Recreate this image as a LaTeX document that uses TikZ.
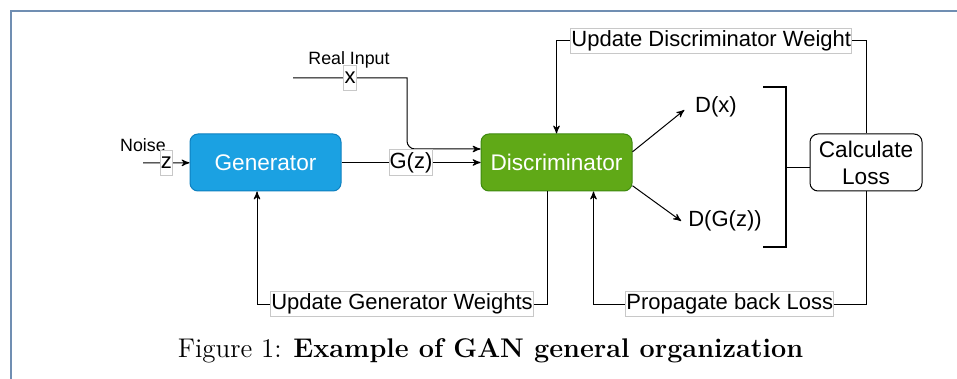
\documentclass[tikz,border=0pt]{standalone}
\usepackage{fontspec}
\newfontfamily\drawfont{Liberation Sans}
\usetikzlibrary{arrows,positioning}

\definecolor{genblue}{HTML}{1BA1E2}
\definecolor{genedge}{HTML}{0E80BF}
\definecolor{discgreen}{HTML}{60A917}
\definecolor{discedge}{HTML}{3E8A0F}
\definecolor{lblgray}{HTML}{C8C8C8}
\definecolor{framecol}{RGB}{112,142,178}

\begin{document}
\begin{tikzpicture}[>=stealth', x=0.5pt, y=-0.5pt, line width=0.5pt,
    block/.style={rectangle, rounded corners=4pt, draw, minimum width=75.5pt, minimum height=28.5pt,
                  text=white, font=\drawfont\fontsize{11.3}{13.5}\selectfont},
    lbl/.style={draw=lblgray, fill=white, inner xsep=0.3pt, inner ysep=1.2pt,
                text height=8pt, text depth=2.3pt, font=\drawfont\fontsize{11}{13}\selectfont},
    plain/.style={font=\drawfont\fontsize{11}{13}\selectfont},
    small/.style={font=\drawfont\fontsize{8.9}{10}\selectfont}]

    \useasboundingbox (0,0) rectangle (957,379);
    % page frame
    \draw [framecol, line width=0.75pt] (11,379) -- (11,11) -- (957,11);

    % Nodes {gen, disc, loss, outputs}
    \node [block, fill=genblue, draw=genedge] 		(gen)  	at (265.5,162.5)	{Generator};
    \node [block, fill=discgreen, draw=discedge]	(disc) 	at (556.5,162.5)	{Discriminator};
    \node [block, text=black, minimum width=56pt, align=center]	(loss) at (866,162.5) {Calculate\\Loss};
    \node [plain]	(dx)   	at (716,107)	{D(x)};
    \node [plain]	(dgz)  	at (725,221)	{D(G(z))};
    \node [small]	(noise)	at (143,145)	{Noise};
    \node [small]	(real) 	at (349,60) 	{Real Input};
    \node (cap) at (490.5,351) {\fontsize{13.5}{16}\selectfont Figure 1: \textbf{Example of GAN general organization}};

    % Free ends and turning points
    \coordinate (zin)  	at (143,163);
    \coordinate (xin)  	at (293,78);
    \coordinate (xturn)	at (407,78);
    \coordinate (brk)  	at (786,168);
    \coordinate (dout) 	at ([xshift=-4.75pt]disc.south);
    \coordinate (dback)	at ([xshift=18.5pt]disc.south);
    \coordinate (gback)	at ([xshift=-4.25pt]gen.south);

    % Bracket
    \draw [line width=1pt] (763,87) -- (786,87) -- (786,247) -- (763,247);

    % Paths
    \draw [->]	(zin) -- node [lbl] {z} (gen);
    \draw [->]	(xin) -- node [lbl] {x} (xturn) [rounded corners=4pt] -- (xturn |- 0,149) -- (disc.west |- 0,149);
    \draw [->]	(gen) -- node [lbl] {G(z)} (disc);
    \draw [->, shorten >=2.4pt]	(disc.8) -- (dx.west);
    \draw [->]	(disc.-17) -- (dgz.west);
    \draw     	(brk) -- (brk -| loss.west);
    \draw [->]	(loss.north) |- node [lbl, pos=0.75] {Update Discriminator Weight} (disc.north |- 0,41) -- (disc.north);
    \draw [->]	(loss.south) |- node [lbl, pos=0.75] {Propagate back Loss} (dback |- 0,304) -- (dback);
    \draw [->]	(dout) |- node [lbl, pos=0.75] {Update Generator Weights} (gback |- 0,304) -- (gback);

\end{tikzpicture}
\end{document}
